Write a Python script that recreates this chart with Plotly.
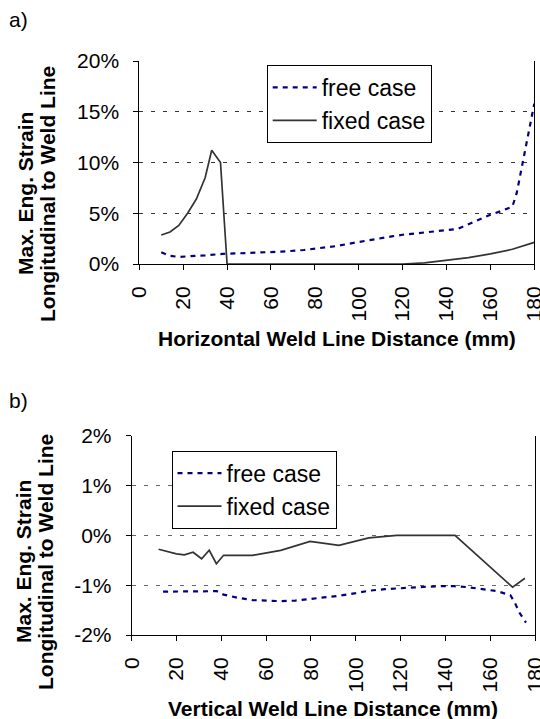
import plotly.graph_objects as go

# ---------------- data: chart a) horizontal weld line ----------------
a_free_x = [10, 14, 18, 22, 26, 30, 34, 38, 45, 55, 65, 75, 80, 85, 90, 95, 100, 105,
            110, 115, 120, 125, 130, 135, 140, 145, 150, 155, 160, 165, 170, 172, 174,
            176, 178, 180]
a_free_y = [1.15, 0.8, 0.7, 0.72, 0.8, 0.85, 0.95, 1.0, 1.05, 1.12, 1.22, 1.38, 1.5,
            1.62, 1.77, 1.98, 2.18, 2.38, 2.56, 2.72, 2.88, 3.0, 3.12, 3.23, 3.33, 3.45,
            3.92, 4.4, 4.85, 5.22, 5.65, 7.0, 9.2, 11.5, 13.6, 15.8]

a_fixed_x = [10, 14, 18, 22, 26, 30, 33, 37, 40, 50, 60, 70, 80, 90, 100, 110, 120,
             130, 140, 150, 160, 170, 180]
a_fixed_y = [2.85, 3.15, 3.8, 5.0, 6.4, 8.5, 11.2, 10.0, 0, 0, 0, 0, 0, 0, 0, 0, 0,
             0.12, 0.36, 0.62, 1.0, 1.45, 2.13]

# ---------------- data: chart b) vertical weld line ----------------
b_free_x = [14, 20, 25, 30, 35, 38, 41, 47, 54, 60, 66, 73, 79, 86, 93, 100, 106, 113,
            119, 126, 132, 138, 144, 150, 157, 163, 169, 171, 173, 176]
b_free_y = [-1.13, -1.13, -1.13, -1.12, -1.12, -1.12, -1.19, -1.25, -1.30, -1.31,
            -1.32, -1.31, -1.28, -1.25, -1.21, -1.16, -1.11, -1.08, -1.06, -1.04,
            -1.03, -1.02, -1.02, -1.04, -1.08, -1.12, -1.2, -1.35, -1.55, -1.75]

b_fixed_x = [12, 20, 23.5, 27.4, 31.2, 34.6, 37.8, 41, 54, 66.5, 79.6, 92.5, 105.8,
             118.3, 144.3, 159.6, 170, 175.5]
b_fixed_y = [-0.28, -0.37, -0.39, -0.34, -0.47, -0.30, -0.57, -0.40, -0.40, -0.30,
             -0.12, -0.20, -0.05, 0, 0, -0.62, -1.04, -0.86]

# ---------------- tick labels ----------------
x_ticks = [0, 20, 40, 60, 80, 100, 120, 140, 160, 180]
a_y_ticks = [0, 5, 10, 15, 20]
a_y_labels = ["0%", "5%", "10%", "15%", "20%"]
b_y_ticks = [-2, -1, 0, 1, 2]
b_y_labels = ["-2%", "-1%", "0%", "1%", "2%"]

FONT = "Liberation Sans, Arial, sans-serif"
W, H = 540, 719
FREE = dict(color="#000080", width=2.2, dash="5px,5px")
FIXED = dict(color="#333333", width=1.7)

fig = go.Figure()
fig.add_trace(go.Scatter(x=a_free_x, y=a_free_y, name="free case", mode="lines",
                         line=FREE, xaxis="x", yaxis="y", legend="legend"))
fig.add_trace(go.Scatter(x=a_fixed_x, y=a_fixed_y, name="fixed case", mode="lines",
                         line=FIXED, xaxis="x", yaxis="y", legend="legend"))
fig.add_trace(go.Scatter(x=b_free_x, y=b_free_y, name="free case", mode="lines",
                         line=FREE, xaxis="x2", yaxis="y2", legend="legend2"))
fig.add_trace(go.Scatter(x=b_fixed_x, y=b_fixed_y, name="fixed case", mode="lines",
                         line=FIXED, xaxis="x2", yaxis="y2", legend="legend2"))

tickfont = dict(family=FONT, size=21, color="black")

def xax(domain, anchor):
    return dict(domain=domain, anchor=anchor, range=[0, 180], tickvals=x_ticks,
                tickangle=-90, ticks="outside", ticklen=5, tickcolor="black",
                showline=True, linecolor="black", linewidth=1, showgrid=False,
                zeroline=False, tickfont=tickfont, ticklabelstandoff=8,
                ticklabeloverflow="allow", automargin=False)

def yax(domain, anchor, rng, tv, tt, gridcolor):
    return dict(domain=domain, anchor=anchor, range=rng, tickvals=tv, ticktext=tt,
                ticks="outside", ticklen=5, tickcolor="black", showline=True,
                linecolor="black", linewidth=1, mirror=True, showgrid=True,
                gridcolor=gridcolor, griddash="4px,8px", gridwidth=1.2, zeroline=False,
                tickfont=tickfont, ticklabelstandoff=10, automargin=False)

legfont = dict(family=FONT, size=23, color="black")

fig.update_layout(
    width=W, height=H, margin=dict(l=0, r=0, t=0, b=0, autoexpand=False),
    paper_bgcolor="white", plot_bgcolor="white", font=dict(family=FONT),
    xaxis=xax([139.3 / W, 534.3 / W], "y"),
    yaxis=yax([1 - 264 / H, 1 - 61 / H], "x", [0, 20], a_y_ticks, a_y_labels, "#333"),
    xaxis2=xax([131.7 / W, 535 / W], "y2"),
    yaxis2=yax([1 - 635 / H, 1 - 435.7 / H], "x2", [-2, 2], b_y_ticks, b_y_labels, "#666"),
    legend=dict(x=266.7 / W, y=1 - 65 / H, xanchor="left", yanchor="top",
                bgcolor="white", bordercolor="black", borderwidth=1, font=legfont,
                itemwidth=44, tracegroupgap=0),
    legend2=dict(x=171.5 / W, y=1 - 450.7 / H, xanchor="left", yanchor="top",
                 bgcolor="white", bordercolor="black", borderwidth=1, font=legfont,
                 itemwidth=44, tracegroupgap=0),
    showlegend=True,
)

titlefont = dict(family=FONT, size=21, color="black", weight="bold")
ann = []
def add_text(txt, x, y, angle=0, font=titlefont, xanchor="center", yanchor="middle"):
    ann.append(dict(text=txt, x=x / W, y=1 - y / H, xref="paper", yref="paper",
                    showarrow=False, textangle=angle, font=font,
                    xanchor=xanchor, yanchor=yanchor))

plainfont = dict(family=FONT, size=21, color="black")
add_text("a)", 7, 19, font=plainfont, xanchor="left")
add_text("b)", 7, 400, font=plainfont, xanchor="left")
add_text("Horizontal Weld Line Distance (mm)", 336.8, 338)
add_text("Vertical Weld Line Distance (mm)", 333.3, 708)
add_text("Max. Eng. Strain", 25, 194, angle=-90)
add_text("Longitudinal to Weld Line", 47, 194, angle=-90)
add_text("Max. Eng. Strain", 23, 562, angle=-90)
add_text("Longitudinal to Weld Line", 45, 562, angle=-90)
fig.update_layout(annotations=ann)

fig.write_html("out.html", config={"displayModeBar": False},
               post_script="document.body.style.margin='0';"
                           "document.body.style.overflow='hidden';")
